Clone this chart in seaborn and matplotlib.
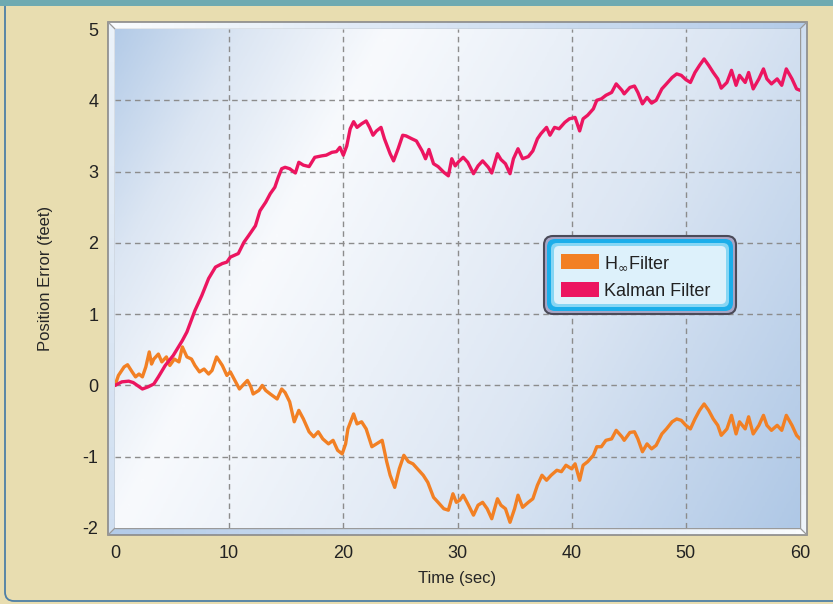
import numpy as np
import pandas as pd
import matplotlib.pyplot as plt
import seaborn as sns
from matplotlib.patches import Polygon, Rectangle, FancyBboxPatch, Patch
from matplotlib.colors import LinearSegmentedColormap

# Position error traces
kalman_t = [0, 0.6, 1.2, 1.6, 2.4, 2.9, 3.4, 3.8, 4.4, 5.1,
            5.9, 6.3, 7.0, 7.6, 8.2, 8.8, 9.4, 9.8, 10.1, 10.8,
            11.3, 11.7, 12.3, 12.7, 13.2, 13.6, 14.0, 14.3, 14.6, 14.9,
            15.3, 15.8, 16.1, 16.5, 17.0, 17.5, 18.1, 18.5, 19.0, 19.4,
            19.7, 20.0, 20.3, 20.6, 20.9, 21.2, 21.6, 22.0, 22.3, 22.6,
            22.9, 23.3, 23.6, 24.1, 24.4, 24.8, 25.2, 25.5, 26.0, 26.4,
            26.9, 27.2, 27.5, 27.9, 28.3, 28.8, 29.2, 29.5, 29.8, 30.1,
            30.5, 30.9, 31.4, 31.8, 32.2, 32.7, 33.0, 33.5, 33.8, 34.2,
            34.6, 34.9, 35.3, 35.7, 36.2, 36.6, 37.0, 37.3, 37.8, 38.1,
            38.5, 38.9, 39.4, 39.8, 40.3, 40.7, 41.0, 41.4, 41.9, 42.2,
            42.6, 43.0, 43.5, 43.9, 44.4, 44.6, 45.1,
            45.5, 45.8, 46.2, 46.6, 47.0, 47.4, 47.9, 48.3, 48.8, 49.2,
            49.6, 50.0, 50.4, 50.8, 51.2, 51.6, 52.0, 52.4, 52.8, 53.1,
            53.6, 54.0, 54.4, 54.7, 55.2, 55.5, 55.9, 56.4, 56.8, 57.1,
            57.5, 58.0, 58.4, 58.8, 59.3, 59.7, 60.0]
kalman_err = [0.00, 0.05, 0.06, 0.04, -0.05, -0.02, 0.02, 0.12, 0.28, 0.42,
              0.63, 0.75, 1.05, 1.26, 1.50, 1.66, 1.71, 1.73, 1.80, 1.85,
              2.01, 2.10, 2.24, 2.45, 2.57, 2.69, 2.78, 2.92, 3.04, 3.06,
              3.04, 2.98, 3.13, 3.09, 3.07, 3.20, 3.22, 3.23, 3.27, 3.28,
              3.34, 3.23, 3.36, 3.60, 3.70, 3.62, 3.67, 3.71, 3.62, 3.51,
              3.57, 3.62, 3.46, 3.25, 3.15, 3.32, 3.51, 3.50, 3.46, 3.43,
              3.29, 3.18, 3.31, 3.11, 3.07, 2.99, 2.94, 3.18, 3.08, 3.14,
              3.20, 3.13, 2.97, 3.08, 3.15, 3.06, 2.98, 3.25, 3.17, 3.11,
              2.97, 3.18, 3.32, 3.18, 3.21, 3.29, 3.46, 3.53, 3.62, 3.51,
              3.62, 3.60, 3.69, 3.74, 3.76, 3.57, 3.74, 3.79, 3.88, 4.00,
              4.02, 4.07, 4.11, 4.23, 4.14, 4.09, 4.18,
              4.20, 4.11, 3.95, 4.04, 3.96, 4.00, 4.16, 4.23, 4.32, 4.37,
              4.35, 4.29, 4.25, 4.39, 4.49, 4.58, 4.49, 4.39, 4.30, 4.17,
              4.25, 4.42, 4.21, 4.35, 4.25, 4.39, 4.16, 4.30, 4.44, 4.30,
              4.23, 4.30, 4.21, 4.44, 4.30, 4.16, 4.14]

hinf_t = [0, 0.3, 0.8, 1.1, 1.5, 1.8, 2.1, 2.4, 2.7, 3.0,
          3.2, 3.4, 3.8, 4.1, 4.5, 4.8, 5.2, 5.6, 5.9, 6.3,
          6.7, 7.0, 7.4, 7.8, 8.2, 8.5, 8.9, 9.4, 9.8, 10.1,
          10.5, 10.9, 11.3, 11.6, 11.9, 12.1, 12.6, 12.9, 13.2, 13.6,
          14.2, 14.6, 14.9,
          15.3, 15.7, 16.1, 16.5, 17.0, 17.4, 17.8, 18.2, 18.7, 19.1,
          19.5, 19.9, 20.2, 20.4, 20.9, 21.2, 21.6, 22.0, 22.5, 22.9,
          23.4, 23.8, 24.1, 24.5, 24.9, 25.3, 25.7, 26.1, 26.6, 27.0,
          27.4, 27.9, 28.3, 28.8, 29.2, 29.6, 29.9, 30.2,
          30.5, 30.9, 31.4, 31.8, 32.2, 32.6, 33.0, 33.5, 33.8, 34.2,
          34.6, 35.0, 35.3, 35.7, 36.2, 36.6, 37.0, 37.4, 37.8, 38.2,
          38.7, 39.1, 39.5, 40.0, 40.3, 40.7, 41.0, 41.4, 41.9, 42.2,
          42.6, 43.0, 43.5, 43.9, 44.4, 44.6, 45.1,
          45.5, 45.8, 46.2, 46.6, 47.0, 47.4, 47.9, 48.3, 48.8, 49.2,
          49.6, 50.0, 50.4, 50.8, 51.2, 51.6, 52.0, 52.4, 52.8, 53.1,
          53.6, 54.0, 54.4, 54.7, 55.2, 55.5, 55.9, 56.4, 56.8, 57.1,
          57.5, 58.0, 58.4, 58.8, 59.3, 59.7, 60.0]
hinf_err = [0.00, 0.14, 0.26, 0.29, 0.19, 0.12, 0.16, 0.12, 0.26, 0.47,
            0.30, 0.37, 0.44, 0.33, 0.40, 0.28, 0.37, 0.33, 0.54, 0.40,
            0.37, 0.28, 0.19, 0.23, 0.16, 0.21, 0.40, 0.28, 0.14, 0.19,
            0.07, -0.05, 0.02, 0.07, -0.02, -0.12, -0.07, 0.00, -0.07, -0.12,
            -0.19, -0.05, -0.10,
            -0.23, -0.51, -0.35, -0.47, -0.65, -0.72, -0.65, -0.75, -0.82, -0.77,
            -0.91, -0.96, -0.82, -0.61, -0.40, -0.54, -0.51, -0.61, -0.86, -0.82,
            -0.77, -1.07, -1.26, -1.43, -1.17, -0.98, -1.07, -1.10, -1.19, -1.26,
            -1.36, -1.57, -1.64, -1.73, -1.75, -1.52, -1.64, -1.61,
            -1.54, -1.66, -1.82, -1.68, -1.64, -1.73, -1.87, -1.59, -1.68, -1.73,
            -1.92, -1.73, -1.54, -1.71, -1.64, -1.59, -1.40, -1.26, -1.33, -1.26,
            -1.19, -1.21, -1.12, -1.17, -1.10, -1.33, -1.12, -1.07, -0.98, -0.86,
            -0.86, -0.77, -0.75, -0.63, -0.72, -0.77, -0.66,
            -0.65, -0.75, -0.93, -0.82, -0.89, -0.84, -0.68, -0.61, -0.51, -0.47,
            -0.49, -0.56, -0.61, -0.47, -0.35, -0.26, -0.35, -0.47, -0.56, -0.70,
            -0.61, -0.42, -0.68, -0.51, -0.61, -0.44, -0.68, -0.56, -0.42, -0.56,
            -0.63, -0.56, -0.63, -0.42, -0.56, -0.70, -0.75]

series_names = ['H$_{\\infty}$Filter', 'Kalman Filter']
series_colors = ['#F28024', '#EC1560']
x_ticks = [0, 10, 20, 30, 40, 50, 60]
y_ticks = [-2, -1, 0, 1, 2, 3, 4, 5]

df = pd.concat([
    pd.DataFrame({'t': hinf_t, 'err': hinf_err, 'filter': series_names[0]}),
    pd.DataFrame({'t': kalman_t, 'err': kalman_err, 'filter': series_names[1]}),
])

sns.set_style('white')
plt.rcParams['font.family'] = ['Liberation Sans', 'DejaVu Sans']
plt.rcParams['text.color'] = '#222222'
plt.rcParams['axes.unicode_minus'] = False

W, H = 833, 604
fig = plt.figure(figsize=(W / 100, H / 100), dpi=100, facecolor='#E8DDB0')

# full-figure pixel canvas for decoration (behind the plot)
bg = fig.add_axes([0, 0, 1, 1], zorder=0)
bg.set_xlim(0, W)
bg.set_ylim(H, 0)
bg.axis('off')
bg.add_patch(FancyBboxPatch((5, -30), W + 40, H + 27, boxstyle='round,pad=0,rounding_size=9',
                            fc='none', ec='#4E7FA6', lw=1.3))
bg.add_patch(Rectangle((0, 0), W, 6, color='#6EAAB1', lw=0))

# bevel frame around the plot area
L, R, T, B = 108, 807, 22, 535
l, r, t, b = 115, 800, 29, 528
light = LinearSegmentedColormap.from_list('bev', ['#FAFCFE', '#B3CBE8'])
bevels = {
    'top': ([(L, T), (R, T), (r, t), (l, t)], np.linspace(0, 1, 64)[None, :]),
    'bottom': ([(L, B), (l, b), (r, b), (R, B)], np.linspace(1, 0, 64)[None, :]),
    'left': ([(L, T), (l, t), (l, b), (L, B)], np.linspace(0.2, 0.6, 64)[:, None]),
    'right': ([(R, T), (r, t), (r, b), (R, B)], np.linspace(0.6, 0.15, 64)[:, None]),
}
for name, (pts, grad) in bevels.items():
    poly = Polygon(pts, closed=True, fc='none', ec='none')
    bg.add_patch(poly)
    im = bg.imshow(grad, cmap=light, vmin=0, vmax=1, extent=[L, R, B, T], aspect='auto')
    im.set_clip_path(poly)
bg.add_patch(Rectangle((L, T), R - L, B - T, fc='none', ec='#8A8A8A', lw=1.2))
bg.add_patch(Rectangle((l, t), r - l, b - t, fc='none', ec='#9A9A9A', lw=1.0))
for p0, p1 in [((L, T), (l, t)), ((R, T), (r, t)), ((L, B), (l, b)), ((R, B), (r, b))]:
    bg.plot([p0[0], p1[0]], [p0[1], p1[1]], color='#9A9A9A', lw=0.9)

# main axes
ax = fig.add_axes([l / W, 1 - b / H, (r - l) / W, (b - t) / H], zorder=1)
ax.patch.set_alpha(0)

gx, gy = np.meshgrid(np.linspace(0, 1, 300), np.linspace(0, 1, 220))
s = gx + 0.4 * gy
shade = np.where(s < 0.4, (0.4 - s) / 0.4 * 0.95, (s - 0.4) / 1.0)
panel = LinearSegmentedColormap.from_list('panel', ['#F8FAFD', '#DCE6F3', '#AFC8E6'])
ax.imshow(shade, cmap=panel, vmin=0, vmax=1, extent=[0, 60, -2, 5], aspect='auto',
          origin='upper', zorder=0)

sns.lineplot(data=df, x='t', y='err', hue='filter', palette=dict(zip(series_names, series_colors)),
             estimator=None, sort=False, lw=2.4, legend=False, ax=ax, zorder=3)

ax.set_xlim(0, 60)
ax.set_ylim(-2, 5)
ax.set_xticks(x_ticks)
ax.set_yticks(y_ticks)
ax.tick_params(length=0, labelsize=13, pad=12, colors='#222222')
for v in x_ticks[1:-1]:
    ax.axvline(v, color='#8C8C8C', lw=1, ls=(0, (4, 3)), zorder=1)
for v in y_ticks[1:-1]:
    ax.axhline(v, color='#8C8C8C', lw=1, ls=(0, (4, 3)), zorder=1)
for sp in ax.spines.values():
    sp.set_visible(False)
ax.set_xlabel('Time (sec)', fontsize=12, labelpad=7)
ax.set_ylabel('Position Error (feet)', fontsize=12, labelpad=21)

# legend box drawn on a top overlay
top = fig.add_axes([0, 0, 1, 1], zorder=2)
top.set_xlim(0, W)
top.set_ylim(H, 0)
top.axis('off')
top.patch.set_alpha(0)
top.add_patch(FancyBboxPatch((544, 236), 192, 78, boxstyle='round,pad=0,rounding_size=9',
                             fc='#A8A6C6', ec='#4A4A58', lw=1.5))
top.add_patch(FancyBboxPatch((547, 239), 186, 72, boxstyle='round,pad=0,rounding_size=8',
                             fc='#1BAEEA', ec='none'))
top.add_patch(FancyBboxPatch((551, 243), 178, 64, boxstyle='round,pad=0,rounding_size=6',
                             fc='#86D6F4', ec='none'))
top.add_patch(FancyBboxPatch((554, 246), 172, 58, boxstyle='round,pad=0,rounding_size=5',
                             fc='#DDF1FB', ec='none'))
handles = [Patch(fc=c, ec='none', label=n) for n, c in zip(series_names, series_colors)]
top.legend(handles=handles, loc='center left', bbox_to_anchor=(561, 277),
           bbox_transform=top.transData, frameon=False, fontsize=13,
           handlelength=2.1, handleheight=0.9, handletextpad=0.3,
           labelspacing=0.55, borderpad=0, borderaxespad=0)

fig.savefig('out.png', dpi=100, facecolor=fig.get_facecolor())
